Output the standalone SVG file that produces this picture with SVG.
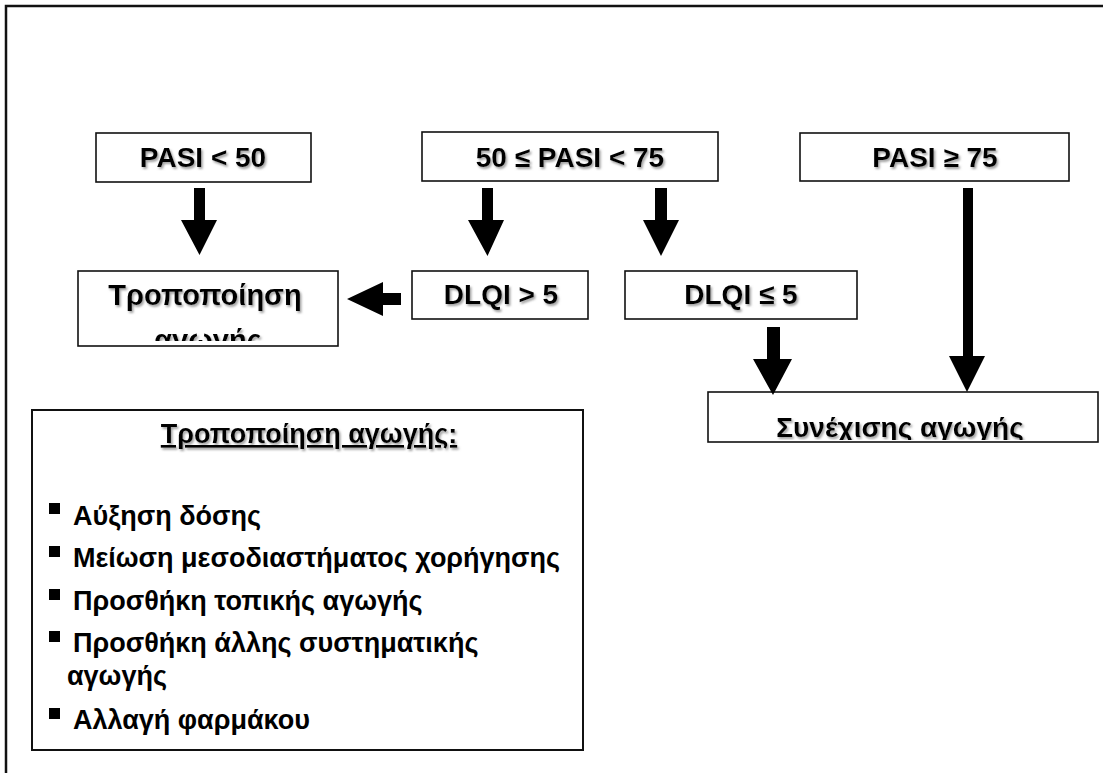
<svg xmlns="http://www.w3.org/2000/svg" width="1103" height="773" viewBox="0 0 1103 773">
<style>
.box{fill:#fff;stroke:#111;stroke-width:1.6}
.t{font-family:"Liberation Sans",Arial,sans-serif;font-weight:bold;fill:#000;text-anchor:middle}
.bt{font-size:28px;filter:url(#sh)}
.li{font-family:"Liberation Sans",Arial,sans-serif;font-weight:bold;font-size:27px;fill:#000}
.ar{fill:#000}
</style>
<defs>
<filter id="sh" x="-10%" y="-30%" width="130%" height="170%">
<feDropShadow dx="1.5" dy="2" stdDeviation="1.2" flood-color="#777" flood-opacity="0.7"/>
</filter>
<clipPath id="c1"><rect x="79" y="272" width="258" height="69"/></clipPath>
<clipPath id="c2"><rect x="709" y="393" width="388" height="47"/></clipPath>
</defs>
<rect width="1103" height="773" fill="#fff"/>
<path d="M6,773 V6 H1103" fill="none" stroke="#111" stroke-width="2.5"/>

<g id="pasi50">
<rect class="box" x="96" y="133" width="215" height="49"/>
<text class="t bt" x="203" y="167">PASI &lt; 50</text>
</g>
<g id="pasi5075">
<rect class="box" x="422" y="132" width="296" height="49"/>
<text class="t bt" x="570" y="167">50 ≤ PASI &lt; 75</text>
</g>
<g id="pasi75">
<rect class="box" x="800" y="133" width="269" height="48"/>
<text class="t bt" x="935" y="167">PASI ≥ 75</text>
</g>
<g id="modify">
<rect class="box" x="78" y="271" width="260" height="75"/>
<g clip-path="url(#c1)">
<text class="t" style="font-size:29px;filter:url(#sh)" x="205" y="305">Τροποποίηση</text>
<text class="t" style="font-size:29px;filter:url(#sh)" x="208" y="350">αγωγής</text>
</g>
</g>
<g id="dlqi_gt5">
<rect class="box" x="412" y="271" width="176" height="48"/>
<text class="t bt" x="501" y="304">DLQI &gt; 5</text>
</g>
<g id="dlqi_le5">
<rect class="box" x="625" y="271" width="232" height="48"/>
<text class="t bt" x="741" y="304">DLQI ≤ 5</text>
</g>
<g id="continue">
<rect class="box" x="708" y="392" width="390" height="50"/>
<g clip-path="url(#c2)">
<text class="t bt" x="900" y="437">Συνέχισης αγωγής</text>
</g>
</g>

<g id="connectors">
<polygon class="ar" points="194,188 205,188 205,220 217,220 199.5,255 181,220 194,220"/>
<polygon class="ar" points="482,188 493,188 493,220 504,220 487.5,256 468,220 482,220"/>
<polygon class="ar" points="655,188 667,188 667,220 679,220 661,256 643,220 655,220"/>
<polygon class="ar" points="401,293 401,305 383,305 383,316 347,299 383,282 383,293"/>
<polygon class="ar" points="767,327 780,327 780,359 792,359 773,395 753,359 767,359"/>
<polygon class="ar" points="963,188 973,188 973,356 985,356 967,392 949,356 963,356"/>
</g>

<g id="legend">
<rect x="32" y="410" width="551" height="340" fill="#fff" stroke="#111" stroke-width="2"/>
<text class="t" style="font-size:27px;filter:url(#sh)" x="309" y="443" text-decoration="underline">Τροποποίηση αγωγής:</text>
<rect x="49" y="503" width="11" height="11"/>
<text class="li" x="73" y="525">Αύξηση δόσης</text>
<rect x="49" y="546" width="11" height="11"/>
<text class="li" x="73" y="567">Μείωση μεσοδιαστήματος χορήγησης</text>
<rect x="49" y="589" width="11" height="11"/>
<text class="li" x="73" y="610">Προσθήκη τοπικής αγωγής</text>
<rect x="49" y="631" width="11" height="11"/>
<text class="li" x="73" y="652">Προσθήκη άλλης συστηματικής</text>
<text class="li" x="67" y="685">αγωγής</text>
<rect x="49" y="708" width="11" height="11"/>
<text class="li" x="73" y="729">Αλλαγή φαρμάκου</text>
</g>
</svg>
